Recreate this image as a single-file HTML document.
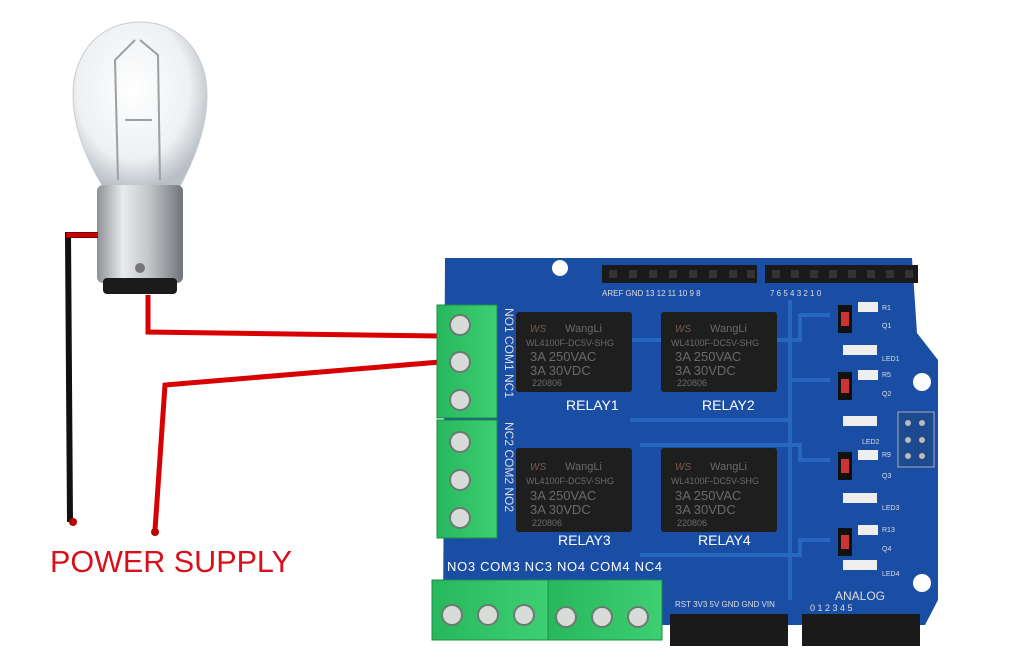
<!DOCTYPE html>
<html><head><meta charset="utf-8"><style>
html,body{margin:0;padding:0;background:#fff;}
body{width:1024px;height:657px;overflow:hidden;position:relative;font-family:"Liberation Sans",sans-serif;}
svg{position:absolute;left:0;top:0;}
</style></head><body>
<svg width="1024" height="657" viewBox="0 0 1024 657">
<defs>
<radialGradient id="glass" cx="0.45" cy="0.4" r="0.6">
<stop offset="0" stop-color="#ffffff"/><stop offset="0.7" stop-color="#eef0f2"/><stop offset="1" stop-color="#b9bfc5"/>
</radialGradient>
<linearGradient id="metal" x1="0" x2="1">
<stop offset="0" stop-color="#8d9196"/><stop offset="0.3" stop-color="#e8eaec"/><stop offset="0.6" stop-color="#c4c7ca"/><stop offset="1" stop-color="#707479"/>
</linearGradient>
<linearGradient id="green" x1="0" x2="1">
<stop offset="0" stop-color="#27b75c"/><stop offset="1" stop-color="#3fcf73"/>
</linearGradient>
</defs>
<!-- bulb -->
<path d="M105,190 C80,150 68,110 75,75 C85,35 115,22 140,22 C165,22 195,35 205,75 C212,110 200,150 178,190 Z" fill="url(#glass)" stroke="#c8cdd2"/>
<path d="M118,180 L115,60 L135,40 M160,180 L158,55 L140,40 M125,120 L152,120" stroke="#9aa0a6" stroke-width="2" fill="none"/>
<rect x="97" y="185" width="86" height="98" rx="6" fill="url(#metal)"/>
<circle cx="140" cy="268" r="5" fill="#777"/>
<rect x="103" y="278" width="74" height="16" rx="4" fill="#1b1b1b"/>
<!-- wires -->
<path d="M98,235 L68,235 L70,522" stroke="#111" stroke-width="6" fill="none"/>
<path d="M66,235 L98,235" stroke="#c00" stroke-width="5"/>
<path d="M148,295 L148,332 L440,336" stroke="#d80000" stroke-width="5" fill="none"/>
<path d="M440,362 L165,385 L155,530" stroke="#d80000" stroke-width="5" fill="none"/>
<circle cx="73" cy="522" r="4" fill="#b00"/><circle cx="155" cy="532" r="4" fill="#b00"/>
<text x="50" y="572" font-size="31" fill="#d8101a" font-family="Liberation Sans" textLength="242" lengthAdjust="spacingAndGlyphs">POWER SUPPLY</text>
<!-- board -->
<path d="M445,258 L912,258 L917,333 L938,360 L938,600 L925,625 L443,625 Z" fill="#1a4ea5"/>
<circle cx="560" cy="268" r="8" fill="#fff"/><circle cx="922" cy="382" r="9" fill="#fff"/><circle cx="922" cy="583" r="9" fill="#fff"/>
<g stroke="#2867c0" stroke-width="4" fill="none">
<path d="M630,340 L800,340 L800,315 L830,315"/><path d="M630,420 L790,420 L790,380 L830,380"/>
<path d="M640,445 L800,445 L800,460 L830,460"/><path d="M640,555 L800,555 L800,540 L830,540"/>
<path d="M790,300 L790,600"/>
</g>
<!-- headers -->
<rect x="602" y="265" width="155" height="18" fill="#1a1a1a"/><rect x="765" y="265" width="153" height="18" fill="#1a1a1a"/>
<g fill="#333"><rect x="609" y="270" width="8" height="8"/><rect x="629" y="270" width="8" height="8"/><rect x="649" y="270" width="8" height="8"/><rect x="669" y="270" width="8" height="8"/><rect x="689" y="270" width="8" height="8"/><rect x="709" y="270" width="8" height="8"/><rect x="729" y="270" width="8" height="8"/><rect x="747" y="270" width="8" height="8"/>
<rect x="772" y="270" width="8" height="8"/><rect x="791" y="270" width="8" height="8"/><rect x="810" y="270" width="8" height="8"/><rect x="829" y="270" width="8" height="8"/><rect x="848" y="270" width="8" height="8"/><rect x="867" y="270" width="8" height="8"/><rect x="886" y="270" width="8" height="8"/><rect x="905" y="270" width="8" height="8"/></g>
<rect x="670" y="614" width="118" height="32" fill="#1a1a1a"/><rect x="802" y="614" width="118" height="32" fill="#1a1a1a"/>
<rect x="898" y="412" width="36" height="55" fill="#1d4a8f" stroke="#aab"/>
<g fill="#bbb"><circle cx="908" cy="423" r="3"/><circle cx="922" cy="423" r="3"/><circle cx="908" cy="440" r="3"/><circle cx="922" cy="440" r="3"/><circle cx="908" cy="456" r="3"/><circle cx="922" cy="456" r="3"/></g>
<g fill="#ddd" font-size="8">
<text x="602" y="296">AREF GND 13 12 11 10 9 8</text><text x="770" y="296">7  6  5  4  3  2  1  0</text>
<text x="675" y="607">RST 3V3 5V GND GND VIN</text><text x="835" y="600" font-size="12">ANALOG</text>
<text x="810" y="611" font-size="9">0    1    2    3    4    5</text>
</g>
<!-- small components -->
<g fill="#111"><rect x="838" y="305" width="14" height="28"/><rect x="838" y="372" width="14" height="28"/><rect x="838" y="452" width="14" height="28"/><rect x="838" y="528" width="14" height="28"/></g>
<g fill="#c33"><rect x="841" y="312" width="8" height="14"/><rect x="841" y="379" width="8" height="14"/><rect x="841" y="459" width="8" height="14"/><rect x="841" y="535" width="8" height="14"/></g>
<g fill="#eee"><rect x="858" y="302" width="20" height="10"/><rect x="843" y="345" width="34" height="10"/><rect x="858" y="370" width="20" height="10"/><rect x="843" y="416" width="34" height="10"/><rect x="858" y="450" width="20" height="10"/><rect x="843" y="493" width="34" height="10"/><rect x="858" y="525" width="20" height="10"/><rect x="843" y="560" width="34" height="10"/></g>
<g fill="#ddd" font-size="7"><text x="882" y="310">R1</text><text x="882" y="328">Q1</text><text x="882" y="361">LED1</text><text x="882" y="377">R5</text><text x="882" y="396">Q2</text><text x="862" y="444">LED2</text><text x="882" y="457">R9</text><text x="882" y="478">Q3</text><text x="882" y="510">LED3</text><text x="882" y="532">R13</text><text x="882" y="551">Q4</text><text x="882" y="576">LED4</text></g>
<!-- relays -->
<g fill="#1e1e1e">
<rect x="516" y="312" width="116" height="80" rx="3"/><rect x="661" y="312" width="116" height="80" rx="3"/>
<rect x="516" y="448" width="116" height="84" rx="3"/><rect x="661" y="448" width="116" height="84" rx="3"/>
</g>
<g fill="#6a6a6a" font-size="11">
<text x="565" y="332">WangLi</text><text x="710" y="332">WangLi</text><text x="565" y="470">WangLi</text><text x="710" y="470">WangLi</text>
<text x="526" y="346" font-size="9">WL4100F-DC5V-SHG</text><text x="671" y="346" font-size="9">WL4100F-DC5V-SHG</text>
<text x="526" y="484" font-size="9">WL4100F-DC5V-SHG</text><text x="671" y="484" font-size="9">WL4100F-DC5V-SHG</text>
<text x="530" y="361" font-size="13">3A  250VAC</text><text x="675" y="361" font-size="13">3A  250VAC</text>
<text x="530" y="500" font-size="13">3A  250VAC</text><text x="675" y="500" font-size="13">3A  250VAC</text>
<text x="530" y="375" font-size="13">3A    30VDC</text><text x="675" y="375" font-size="13">3A    30VDC</text>
<text x="530" y="514" font-size="13">3A    30VDC</text><text x="675" y="514" font-size="13">3A    30VDC</text>
<text x="532" y="386" font-size="9">220806</text><text x="677" y="386" font-size="9">220806</text>
<text x="532" y="526" font-size="9">220806</text><text x="677" y="526" font-size="9">220806</text>
</g>
<g fill="#7a5a4a" font-size="10" font-style="italic"><text x="530" y="332">WS</text><text x="675" y="332">WS</text><text x="530" y="470">WS</text><text x="675" y="470">WS</text></g>
<g fill="#fff" font-size="14"><text x="566" y="410">RELAY1</text><text x="702" y="410">RELAY2</text><text x="558" y="545">RELAY3</text><text x="698" y="545">RELAY4</text>
<text x="447" y="571" font-size="13" textLength="215" lengthAdjust="spacing">NO3  COM3  NC3 NO4  COM4  NC4</text></g>
<g fill="#ddd" font-size="12"><text transform="translate(505,308) rotate(90)">NO1  COM1   NC1</text><text transform="translate(505,422) rotate(90)">NC2  COM2  NO2</text></g>
<!-- terminal blocks -->
<rect x="437" y="305" width="60" height="113" fill="url(#green)" stroke="#1d8c47"/>
<rect x="437" y="420" width="60" height="118" fill="url(#green)" stroke="#1d8c47"/>
<rect x="432" y="580" width="116" height="60" fill="url(#green)" stroke="#1d8c47"/>
<rect x="548" y="580" width="114" height="60" fill="url(#green)" stroke="#1d8c47"/>
<g fill="#d7dcd9" stroke="#6b7a70" stroke-width="2">
<circle cx="460" cy="325" r="10"/><circle cx="460" cy="362" r="10"/><circle cx="460" cy="400" r="10"/>
<circle cx="460" cy="442" r="10"/><circle cx="460" cy="480" r="10"/><circle cx="460" cy="518" r="10"/>
<circle cx="452" cy="615" r="10"/><circle cx="488" cy="615" r="10"/><circle cx="524" cy="615" r="10"/>
<circle cx="566" cy="617" r="10"/><circle cx="602" cy="617" r="10"/><circle cx="638" cy="617" r="10"/>
</g>
</svg>
</body></html>
